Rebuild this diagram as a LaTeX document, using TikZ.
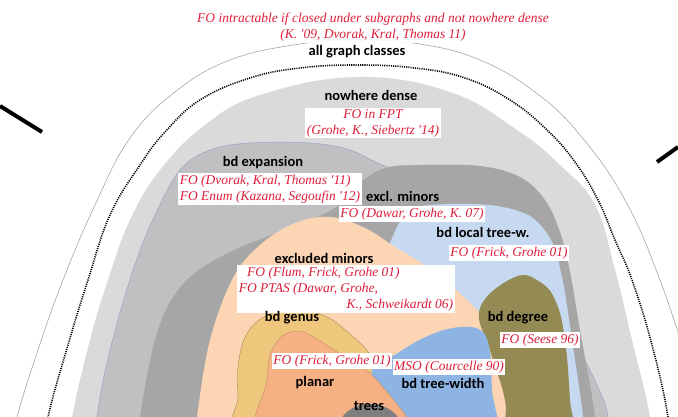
\documentclass[tikz,border=0pt]{standalone}
\usepackage{fontspec}
\setmainfont{Liberation Serif}
\newfontfamily\labfont{Carlito}
\newfontfamily\redfont{Liberation Serif}
\definecolor{redc}{RGB}{222,30,58}
\definecolor{ndgray}{RGB}{218,218,218}
\definecolor{bexgray}{RGB}{192,192,194}
\definecolor{bexedge}{RGB}{150,158,196}
\definecolor{exgray}{RGB}{166,166,166}
\definecolor{ltblue}{RGB}{198,217,241}
\definecolor{peach}{RGB}{252,213,181}
\definecolor{olive}{RGB}{148,138,84}
\definecolor{genus}{RGB}{238,198,124}
\definecolor{planarc}{RGB}{245,177,131}
\definecolor{twblue}{RGB}{141,180,227}
\definecolor{treegray}{RGB}{127,127,127}
\tikzset{
  lbl/.style={font=\labfont\bfseries\fontsize{14.5}{16}\selectfont, inner sep=0pt},
  redlbl/.style={font=\redfont\itshape\fontsize{13.5}{16}\selectfont, text=redc, fill=white, inner sep=1.5pt, align=center},
  blob/.style={line width=0.4pt}
}
\begin{document}
\begin{tikzpicture}[x=1pt,y=-1pt]
\useasboundingbox (0,0) rectangle (678,417);
\begin{scope}
\clip (0,0) rectangle (678,417);
% outer thin line
\draw[gray!70, line width=0.6pt] plot[smooth, tension=0.7] coordinates {(5,470) (17,417) (38,350) (63,280) (95,205) (130,138) (175,92) (230,60) (300,44) (358,40) (420,44) (480,60) (535,92) (580,135) (625,200) (660,280) (690,370)};
% dotted line
\draw[black, line width=1.6pt, dash pattern=on 1.1pt off 1.1pt] plot[smooth, tension=0.7] coordinates {(40,470) (48,417) (68,345) (88,280) (110,215) (140,165) (165,132) (200,100) (250,78) (300,68) (357,65) (415,68) (465,78) (510,100) (547,130) (575,162) (598,200) (615,240) (632,280) (652,345) (668,417) (672,470)};
% nowhere dense
\fill[ndgray] plot[smooth cycle, tension=0.7] coordinates {(62,480) (72,417) (90,340) (108,280) (130,220) (160,170) (205,125) (260,95) (357,77) (450,92) (517,130) (560,165) (595,205) (615,270) (632,340) (650,417) (656,480) (360,500)};
% bd expansion
\filldraw[bexgray, draw=bexedge, blob] plot[smooth cycle, tension=0.6] coordinates {(94,480) (97,417) (110,350) (133,270) (155,215) (180,170) (210,150) (250,143) (310,143) (350,150) (390,168) (460,188) (520,230) (552,285) (575,340) (597,385) (608,417) (612,480) (360,500)};
% excl. minors
\fill[exgray] plot[smooth cycle, tension=0.6] coordinates {(134,480) (140,417) (158,330) (185,282) (230,252) (290,228) (335,208) (360,183) (385,168) (420,165) (480,166) (520,177) (545,200) (560,232) (570,272) (580,330) (595,417) (598,480) (360,500)};
% bd local tree-width
\fill[ltblue] plot[smooth cycle, tension=0.5] coordinates {(360,320) (387,250) (405,214) (430,205) (490,205) (530,216) (552,242) (563,282) (572,340) (583,417) (586,480) (400,480)};
% excluded minors
\fill[peach] plot[smooth cycle, tension=0.6] coordinates {(190,480) (197,417) (210,340) (233,278) (260,245) (295,223) (330,217) (365,228) (395,247) (433,271) (477,310) (520,360) (550,417) (556,480) (360,500)};
% bd degree
\fill[olive] plot[smooth cycle, tension=0.7] coordinates {(515,277) (540,282) (556,302) (565,340) (570,400) (572,450) (510,450) (505,400) (490,350) (480,308)};
% bd genus
\filldraw[genus, draw=genus!70!black, blob] plot[smooth cycle, tension=0.7] coordinates {(243,450) (238,395) (239,360) (248,332) (268,315) (295,310) (325,316) (350,334) (370,354) (386,378) (392,450)};
% bd tree-width
\fill[twblue] plot[smooth cycle, tension=0.6] coordinates {(372,376) (398,353) (430,335) (460,327) (482,331) (490,352) (492,390) (495,450) (420,450)};
% planar
\filldraw[planarc, draw=planarc!80!black, blob] plot[smooth cycle, tension=0.5] coordinates {(252,450) (255,417) (266,385) (270,355) (282,336) (300,331) (320,341) (348,359) (373,376) (407,417) (430,450)};
% trees
\fill[treegray] (370,430) ellipse [x radius=32pt, y radius=26pt];
\end{scope}
% black strokes
\coordinate (l1) at (0,106);
\coordinate (l2) at (42,132);
\coordinate (r1) at (657,162);
\coordinate (r2) at (678,147);
\draw[black, line width=4pt] (l1) -- (l2);
\draw[black, line width=4pt] (r1) -- (r2);
% labels
\node[redlbl, fill opacity=0.9, text opacity=1, minimum width=364pt] (top) at (373,27) {FO intractable if closed under subgraphs and not nowhere dense\\(K. '09, Dvorak, Kral, Thomas 11)};
\node[lbl] (all) at (357,52) {all graph classes};
\node[lbl] (nd) at (371,95) {nowhere dense};
\node[redlbl] (fpt) at (373,123) {FO in FPT\\(Grohe, K., Siebertz '14)};
\node[lbl] (bex) at (263,163) {bd expansion};
\node[redlbl, align=left] (dkt) at (270,189) {FO (Dvorak, Kral, Thomas '11)\\FO Enum (Kazana, Segoufin '12)};
\node[lbl, anchor=west] (exm) at (366,196) {excl. minors};
\node[redlbl] (dgk) at (412,214) {FO (Dawar, Grohe, K. 07)};
\node[lbl] (bltw) at (483,232) {bd local tree-w.};
\node[redlbl] (fg1) at (509,253) {FO (Frick, Grohe 01)};
\node[lbl] (exmin) at (324,258) {excluded minors};
\node[redlbl, align=right] (ffg) at (346,289) {FO (Flum, Frick, Grohe 01)\hphantom{K., Schwe}\\FO PTAS (Dawar, Grohe,\hphantom{K., Schweikar}\\K., Schweikardt 06)};
\node[lbl] (genus) at (292,318) {bd genus};
\node[lbl] (deg) at (518,318) {bd degree};
\node[redlbl] (seese) at (540,340) {FO (Seese 96)};
\node[redlbl] (fg2) at (332,361) {FO (Frick, Grohe 01)};
\node[redlbl] (mso) at (449,367) {MSO (Courcelle 90)};
\node[lbl] (planar) at (315,383) {planar};
\node[lbl] (tw) at (443,383) {bd tree-width};
\node[lbl] (trees) at (369,406) {trees};
\end{tikzpicture}
\end{document}
